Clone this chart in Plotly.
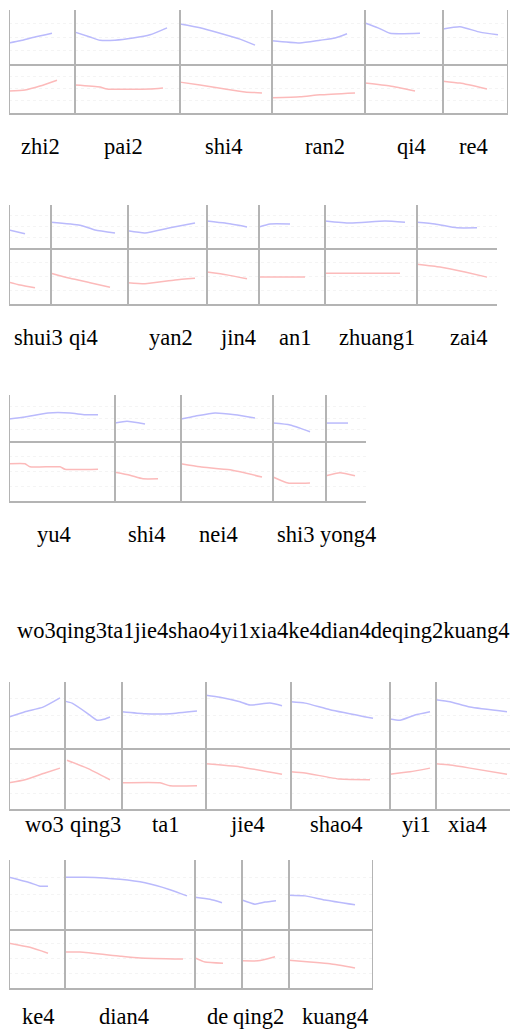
import plotly.graph_objects as go

# ---------------- DATA ----------------
# times in ms, pitch in normalized units (0-100) per panel
row1_syllables = ["zhi2", "pai2", "shi4", "ran2", "qi4", "re4"]
row1_bounds = [0, 264, 684, 1052, 1424, 1736, 1996]
row1_blue_t = [[0, 44, 104, 172], [264, 324, 364, 424, 496, 564, 632], [684, 764, 844, 924, 984],
               [1052, 1164, 1244, 1304, 1352], [1424, 1476, 1524, 1644], [1736, 1804, 1884, 1956]]
row1_blue_v = [[39, 43, 50, 57], [59, 50, 44, 44, 48, 54, 67], [74, 67, 57, 46, 35],
               [43, 39, 44, 48, 56], [76, 67, 57, 57], [65, 69, 59, 54]]
row1_red_t = [[0, 64, 124, 192], [264, 364, 392, 564, 616], [684, 764, 864, 944, 1012],
              [1052, 1164, 1244, 1384], [1424, 1524, 1624], [1736, 1804, 1912]]
row1_red_v = [[45, 47, 55, 67], [57, 53, 49, 49, 51], [63, 57, 49, 43, 41],
              [31, 33, 37, 41], [61, 55, 45], [65, 61, 49]]

row2_syllables = ["shui3", "qi4", "yan2", "jin4", "an1", "zhuang1", "zai4"]
row2_bounds = [0, 168, 476, 792, 1000, 1264, 1632, 1952]
row2_blue_t = [[0, 64], [168, 284, 344, 424], [476, 544, 644, 744], [792, 864, 952],
               [1000, 1044, 1124], [1264, 1364, 1504, 1584], [1632, 1704, 1792, 1872]]
row2_blue_v = [[42, 33], [60, 53, 42, 35], [40, 35, 47, 58], [63, 58, 49],
               [49, 56, 56], [63, 58, 63, 60], [60, 56, 47, 47]]
row2_red_t = [[0, 44, 104], [168, 244, 324, 404], [476, 544, 664, 744], [792, 872, 952],
              [1000, 1184], [1264, 1564], [1632, 1724, 1824, 1912]]
row2_red_v = [[39, 34, 29], [55, 46, 38, 30], [38, 36, 43, 46], [57, 52, 45],
              [48, 48], [55, 55], [71, 66, 57, 48]]

row3_syllables = ["yu4", "shi4", "nei4", "shi3", "yong4"]
row3_bounds = [0, 424, 688, 1056, 1268, 1428]
row3_blue_t = [[0, 64, 156, 244, 304, 356], [424, 472, 544], [688, 744, 824, 904, 984],
               [1056, 1124, 1164, 1204], [1268, 1356]]
row3_blue_v = [[48, 52, 61, 61, 57, 57], [39, 43, 37], [48, 54, 61, 57, 50],
               [39, 35, 28, 20], [39, 39]]
row3_red_t = [[0, 64, 84, 204, 224, 356], [424, 484, 536, 596], [688, 764, 884, 1012],
              [1056, 1116, 1204], [1268, 1324, 1384]]
row3_red_v = [[62, 62, 57, 57, 53, 53], [48, 43, 37, 37], [62, 57, 52, 40],
              [40, 30, 30], [42, 47, 42]]

sentence_text = "wo3qing3ta1jie4shao4yi1xia4ke4dian4deqing2kuang4"

row5_syllables = ["wo3", "qing3", "ta1", "jie4", "shao4", "yi1", "xia4"]
row5_bounds = [0, 224, 452, 788, 1128, 1524, 1708, 2004]
row5_blue_t = [[0, 64, 136, 204], [224, 252, 312, 352, 384, 404], [452, 544, 644, 752],
               [788, 844, 924, 964, 1044, 1092], [1128, 1184, 1284, 1456],
               [1524, 1564, 1624, 1684], [1708, 1764, 1844, 1992]]
row5_blue_v = [[47, 55, 62, 76], [71, 68, 53, 42, 44, 47], [55, 52, 52, 56],
               [80, 77, 70, 65, 68, 64], [70, 68, 58, 45], [44, 42, 50, 55], [73, 70, 62, 55]]
row5_red_t = [[0, 64, 144, 204], [232, 312, 404], [452, 604, 644, 752], [788, 924, 1092],
              [1128, 1184, 1324, 1444], [1524, 1604, 1684], [1708, 1764, 1844, 1992]]
row5_red_v = [[43, 48, 59, 67], [80, 67, 48], [43, 43, 38, 38], [74, 69, 57],
              [61, 59, 49, 48], [57, 61, 67], [74, 72, 67, 57]]

row6_syllables = ["ke4", "dian4", "de", "qing2", "kuang4"]
row6_bounds = [0, 224, 744, 932, 1120, 1456]
row6_blue_t = [[0, 84, 124, 156], [224, 304, 444, 544, 644, 712], [744, 804, 852],
               [932, 984, 1024, 1068], [1120, 1184, 1264, 1384]]
row6_blue_v = [[75, 67, 62, 62], [75, 75, 72, 67, 57, 48], [46, 43, 38],
               [42, 36, 39, 41], [49, 48, 42, 35]]
row6_red_t = [[0, 84, 156], [224, 284, 444, 524, 696], [744, 784, 856],
              [932, 996, 1064], [1120, 1204, 1284, 1384]]
row6_red_v = [[76, 69, 59], [61, 61, 54, 51, 49], [51, 44, 42],
              [46, 46, 53], [47, 44, 41, 34]]

# ---------------- LAYOUT (page pixels) ----------------
OFF = 8                      # default body margin of the html page
W, H = 518 - OFF, 1034 - OFF
X0 = 9                       # left edge of every row (page px)
PX_PER_MS = 0.25             # horizontal time scale

rows = [
    dict(syl=row1_syllables, b=row1_bounds, bt=row1_blue_t, bv=row1_blue_v, rt=row1_red_t, rv=row1_red_v,
         top=10, mid=64, bot=113, ly=146, lx=[40, 123, 224, 325, 411, 473], right=True),
    dict(syl=row2_syllables, b=row2_bounds, bt=row2_blue_t, bv=row2_blue_v, rt=row2_red_t, rv=row2_red_v,
         top=205, mid=248, bot=304, ly=337, lx=[38, 83, 171, 238, 295, 377, 468], right=False),
    dict(syl=row3_syllables, b=row3_bounds, bt=row3_blue_t, bv=row3_blue_v, rt=row3_red_t, rv=row3_red_v,
         top=395, mid=441, bot=501, ly=535, lx=[54, 147, 218, 296, 348], right=False),
    dict(syl=row5_syllables, b=row5_bounds, bt=row5_blue_t, bv=row5_blue_v, rt=row5_red_t, rv=row5_red_v,
         top=682, mid=748, bot=809, ly=824, lx=[44, 95, 166, 247, 336, 416, 467], right=False),
    dict(syl=row6_syllables, b=row6_bounds, bt=row6_blue_t, bv=row6_blue_v, rt=row6_red_t, rv=row6_red_v,
         top=860, mid=929, bot=988, ly=1016, lx=[38, 124, 217, 258, 335], right=True),
]

BLUE = "rgb(186,186,252)"
RED = "rgb(252,186,186)"
FRAME = "#b4b4b4"
FONT = dict(family="Liberation Serif", size=22.5, color="black")
FONT_SENT = dict(family="Liberation Serif", size=22.5, color="black")

fig = go.Figure()
layout = dict(width=W, height=H, margin=dict(l=0, r=0, t=0, b=0),
              paper_bgcolor="white", plot_bgcolor="white", showlegend=False,
              font=dict(family="Liberation Serif"))
shapes, annotations = [], []

def px(p):
    return (p - OFF) / W

def py(p):
    return (H - (p - OFF)) / H

k = 0
for r in rows:
    x_right = X0 + r["b"][-1] * PX_PER_MS
    xdom = [px(X0), px(x_right)]
    for part, (t_list, v_list, color, y0, y1) in enumerate(
            [(r["bt"], r["bv"], BLUE, r["mid"], r["top"]),
             (r["rt"], r["rv"], RED, r["bot"], r["mid"])]):
        k += 1
        xa = "x" if k == 1 else f"x{k}"
        ya = "y" if k == 1 else f"y{k}"
        layout["xaxis" if k == 1 else f"xaxis{k}"] = dict(
            domain=xdom, range=[r["b"][0], r["b"][-1]], anchor=ya,
            showticklabels=False, ticks="", showgrid=False, zeroline=False,
            showline=True, linecolor=FRAME, linewidth=1.5, fixedrange=True)
        layout["yaxis" if k == 1 else f"yaxis{k}"] = dict(
            domain=[py(y0), py(y1)], range=[0, 100], anchor=xa,
            showticklabels=False, ticks="", showgrid=True, gridcolor="#f4f4f4",
            griddash="dot", dtick=25, zeroline=False, showline=False, fixedrange=True)
        for t, v in zip(t_list, v_list):
            fig.add_trace(go.Scatter(x=t, y=v, xaxis=xa, yaxis=ya, mode="lines",
                                     line=dict(color=color, width=1.5, shape="spline", smoothing=0.5),
                                     hoverinfo="skip"))
        if part == 0:
            xref_row = xa
    bounds = r["b"] if r["right"] else r["b"][:-1]
    for b in bounds:
        shapes.append(dict(type="line", xref=xref_row, yref="paper", x0=b, x1=b,
                           y0=py(r["bot"]), y1=py(r["top"]),
                           line=dict(color=FRAME, width=2)))
    for s, lx in zip(r["syl"], r["lx"]):
        annotations.append(dict(text=s, x=px(lx), y=py(r["ly"]), xref="paper", yref="paper",
                                showarrow=False, xanchor="center", yanchor="middle", font=FONT))

annotations.append(dict(text=sentence_text, x=px(263), y=py(630), xref="paper", yref="paper",
                        showarrow=False, xanchor="center", yanchor="middle", font=FONT_SENT))

layout["shapes"] = shapes
layout["annotations"] = annotations
fig.update_layout(**layout)
fig.write_html("out.html")
